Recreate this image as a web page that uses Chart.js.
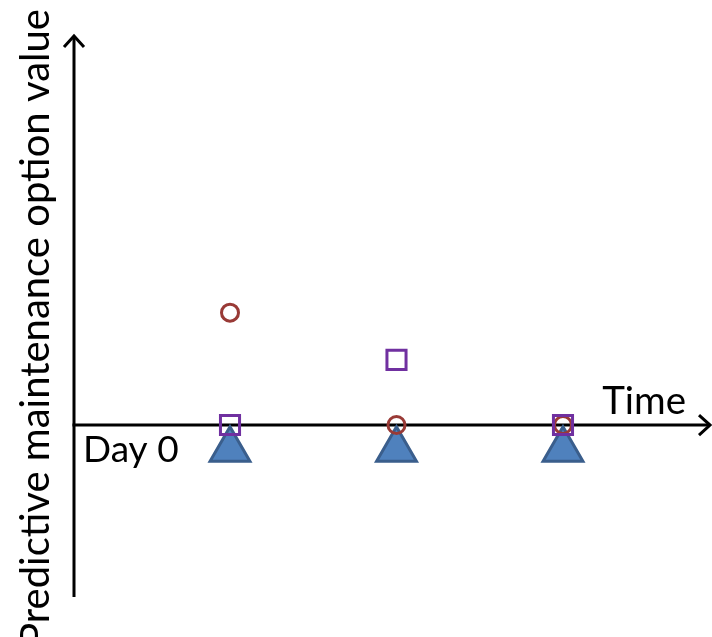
<!DOCTYPE html>
<html>
<head>
<meta charset="utf-8">
<script src="https://cdn.jsdelivr.net/npm/chart.js@4"></script>
<style>
html,body{margin:0;padding:0;background:#fff;}
canvas{display:block;}
</style>
</head>
<body>
<canvas id="c" width="712" height="637"></canvas>
<script>
// ---- data ----
const timePoints = [1, 2, 3];
const circleValues = [2.0, 0, 0];
const squareValues = [0, 1.16, 0];
const triangleValues = [-0.44, -0.44, -0.44];
const yTitle = 'Predictive maintenance option value';
const xTitle = 'Time';
const originLabel = 'Day 0';

const toPts = (vals) => vals.map((v, i) => ({x: timePoints[i], y: v}));

const FONT = 'Lato, "Open Sans", sans-serif';

const axesPlugin = {
  id: 'axes',
  beforeDatasetsDraw(chart) {
    const {ctx, chartArea, scales} = chart;
    const x0 = chartArea.left;
    const y0 = scales.y.getPixelForValue(0);
    const top = chartArea.top;
    const bottom = chartArea.bottom;
    const right = chartArea.right;
    ctx.save();
    ctx.strokeStyle = '#000';
    ctx.lineWidth = 3;
    ctx.lineCap = 'butt';
    // y axis
    ctx.beginPath();
    ctx.moveTo(x0, bottom);
    ctx.lineTo(x0, top + 1);
    ctx.stroke();
    // x axis
    ctx.beginPath();
    ctx.moveTo(x0 - 1.5, y0);
    ctx.lineTo(right - 1, y0);
    ctx.stroke();
    // arrowheads
    ctx.lineJoin = 'miter';
    ctx.beginPath();
    ctx.moveTo(x0 - 10, top + 12);
    ctx.lineTo(x0, top + 1);
    ctx.lineTo(x0 + 10, top + 12);
    ctx.stroke();
    ctx.beginPath();
    ctx.moveTo(right - 12, y0 - 10);
    ctx.lineTo(right - 1, y0);
    ctx.lineTo(right - 12, y0 + 10);
    ctx.stroke();
    // texts
    ctx.fillStyle = '#000';
    ctx.font = '37px ' + FONT;
    ctx.textBaseline = 'alphabetic';
    ctx.textAlign = 'left';
    ctx.fillText(originLabel, 83, 462);
    ctx.textAlign = 'right';
    ctx.font = '38.5px ' + FONT;
    ctx.fillText(xTitle, 686, 414);
    ctx.translate(49, 328);
    ctx.rotate(-Math.PI / 2);
    ctx.textAlign = 'center';
    ctx.font = '40px ' + FONT;
    ctx.fillText(yTitle, 0, 0);
    ctx.restore();
  }
};

new Chart(document.getElementById('c'), {
  type: 'scatter',
  data: {
    datasets: [
      {
        label: 'square',
        data: toPts(squareValues),
        pointStyle: 'rect',
        pointRadius: 13.5,
        pointBorderWidth: 3,
        pointBorderColor: '#7030A0',
        pointBackgroundColor: 'rgba(0,0,0,0)',
        order: 0
      },
      {
        label: 'circle',
        data: toPts(circleValues),
        pointStyle: 'circle',
        pointRadius: 8.5,
        pointBorderWidth: 3,
        pointBorderColor: '#993A36',
        pointBackgroundColor: 'rgba(0,0,0,0)',
        order: 1
      },
      {
        label: 'triangle',
        data: toPts(triangleValues),
        pointStyle: 'triangle',
        pointRadius: 23,
        pointBorderWidth: 3,
        pointBorderColor: '#3A5E8C',
        pointBackgroundColor: '#4F81BD',
        order: 2
      }
    ]
  },
  options: {
    responsive: false,
    animation: false,
    layout: {autoPadding: false, padding: {left: 74, right: 1, top: 35, bottom: 40}},
    plugins: {legend: {display: false}, tooltip: {enabled: false}},
    scales: {
      x: {type: 'linear', display: false, min: 0.063, max: 3.889},
      y: {type: 'linear', display: false, min: -3.06, max: 6.94}
    }
  },
  plugins: [axesPlugin]
});
</script>
</body>
</html>
